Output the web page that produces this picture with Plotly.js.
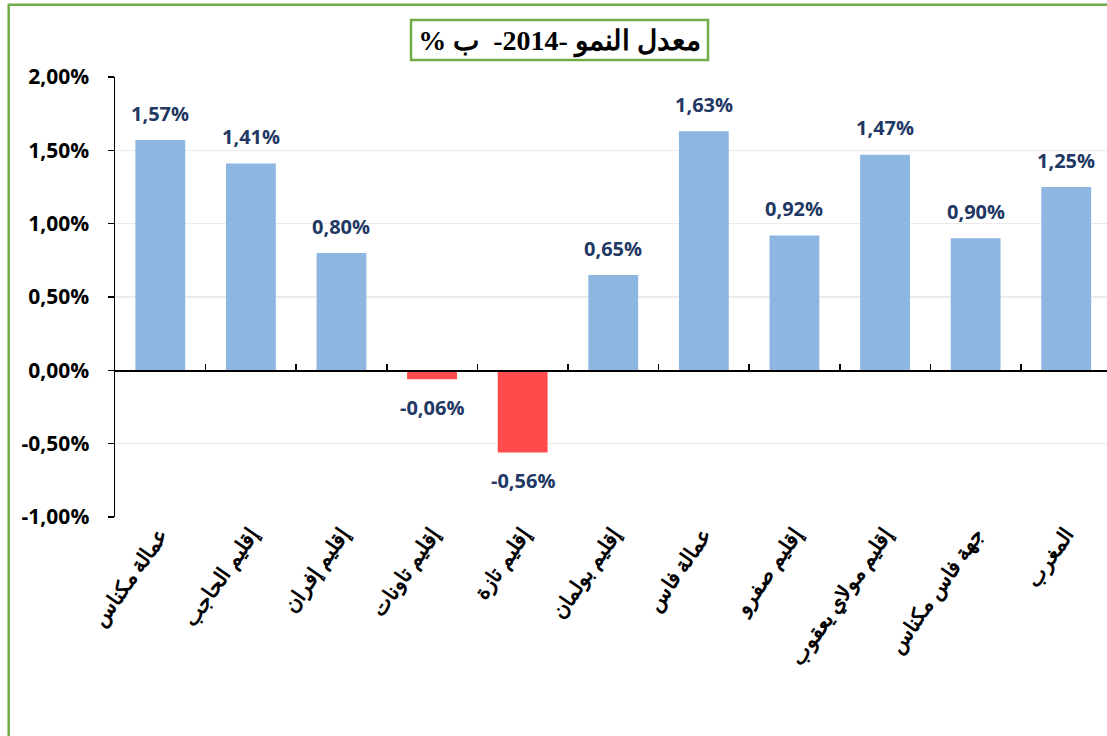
<!DOCTYPE html>
<html>
<head>
<meta charset="utf-8">
<script src="https://cdn.plot.ly/plotly-3.0.1.min.js"></script>
<style>html,body{margin:0;padding:0;background:#fff;}#chart{width:1107px;height:736px;}</style>
</head>
<body>
<div id="chart"></div>
<script>
// Data
var categories = ["عمالة مكناس","إقليم الحاجب","إقليم إفران","إقليم تاونات","إقليم تازة","إقليم بولمان","عمالة فاس","إقليم صفرو","إقليم مولاي يعقوب","جهة فاس مكناس","المغرب"];
var growthRate = [1.57, 1.41, 0.80, -0.06, -0.56, 0.65, 1.63, 0.92, 1.47, 0.90, 1.25];
var yTickValues = [-1, -0.5, 0, 0.5, 1, 1.5, 2];
var chartTitle = "معدل النمو -2014-  ب %";

var posColor = "#8DB6E1", negColor = "#FF4B4B";
var barColors = growthRate.map(function(v){ return v < 0 ? negColor : posColor; });

function fmt(v){ return v.toFixed(2).replace(".", ",") + "%"; }
var yTickText = yTickValues.map(fmt);

var traces = [
  {
    type: "bar", x: categories, y: growthRate, xaxis: "x", yaxis: "y",
    marker: {color: barColors}, hoverinfo: "x+y"
  },
  {
    type: "scatter", mode: "none", x: categories, y: growthRate, xaxis: "x2", yaxis: "y",
    hoverinfo: "skip", showlegend: false
  }
];

var annotations = categories.map(function(c, i){
  var v = growthRate[i];
  return {
    x: c, y: v, xref: "x", yref: "y", text: fmt(v), showarrow: false,
    yanchor: "middle", yshift: v < 0 ? -28 : 27,
    font: {family: "Open Sans, Liberation Sans, sans-serif", size: 20, color: "#1F3864", weight: "bold"}
  };
});

var xRange = [-0.5, 10.45];

var layout = {
  width: 1107, height: 736,
  margin: {l: 115, r: 0, t: 77, b: 219, pad: 0},
  paper_bgcolor: "#ffffff", plot_bgcolor: "#ffffff",
  showlegend: false,
  separators: ", ",
  bargap: 0.45,
  title: {
    text: "\u202B" + chartTitle + "\u202C",
    font: {family: "Liberation Serif, Times New Roman, serif", size: 28, color: "#000000", weight: "bold"},
    xref: "container", yref: "container", x: 559.5/1107, y: 1 - 40/736,
    xanchor: "center", yanchor: "middle"
  },
  xaxis: {
    type: "category", categoryorder: "array", categoryarray: categories,
    range: xRange, showgrid: false, zeroline: false, showline: false, ticks: "",
    tickangle: -55,
    tickfont: {family: "Liberation Serif, Times New Roman, serif", size: 21, color: "#000000", weight: "bold"}
  },
  xaxis2: {
    type: "category", categoryorder: "array", categoryarray: categories,
    overlaying: "x", anchor: "free", position: 1/3, side: "bottom",
    range: xRange, showgrid: false, zeroline: false, showline: true, linecolor: "#000000", linewidth: 1.5,
    ticks: "inside", tickson: "boundaries", ticklen: 6, tickwidth: 1.5, tickcolor: "#000000",
    showticklabels: false
  },
  yaxis: {
    range: [-1, 2], tickmode: "array", tickvals: yTickValues, ticktext: yTickText,
    showgrid: true, gridcolor: "#EBEBEB", gridwidth: 1.5, zeroline: false,
    showline: true, linecolor: "#000000", linewidth: 1.5,
    ticks: "outside", ticklen: 6, tickwidth: 1.5, tickcolor: "#000000",
    ticklabelstandoff: 14,
    tickfont: {family: "Open Sans, Liberation Sans, sans-serif", size: 21, color: "#000000", weight: "bold"}
  },
  annotations: annotations,
  shapes: [
    { type: "rect", xref: "paper", yref: "paper",
      x0: (411-115)/992, x1: (708-115)/992, y0: (517-60)/440, y1: (517-20)/440,
      line: {color: "#70AD47", width: 2.5}, fillcolor: "rgba(0,0,0,0)", layer: "below" },
    { type: "path", xref: "paper", yref: "paper",
      path: "M " + ((8.7-115)/992) + "," + ((517-760)/440) + " L " + ((8.7-115)/992) + "," + ((517-4.8)/440) + " L " + ((1120-115)/992) + "," + ((517-4.8)/440),
      line: {color: "#70AD47", width: 2.5} }
  ]
};

Plotly.newPlot("chart", traces, layout, {displayModeBar: false, staticPlot: true});
</script>
</body>
</html>
